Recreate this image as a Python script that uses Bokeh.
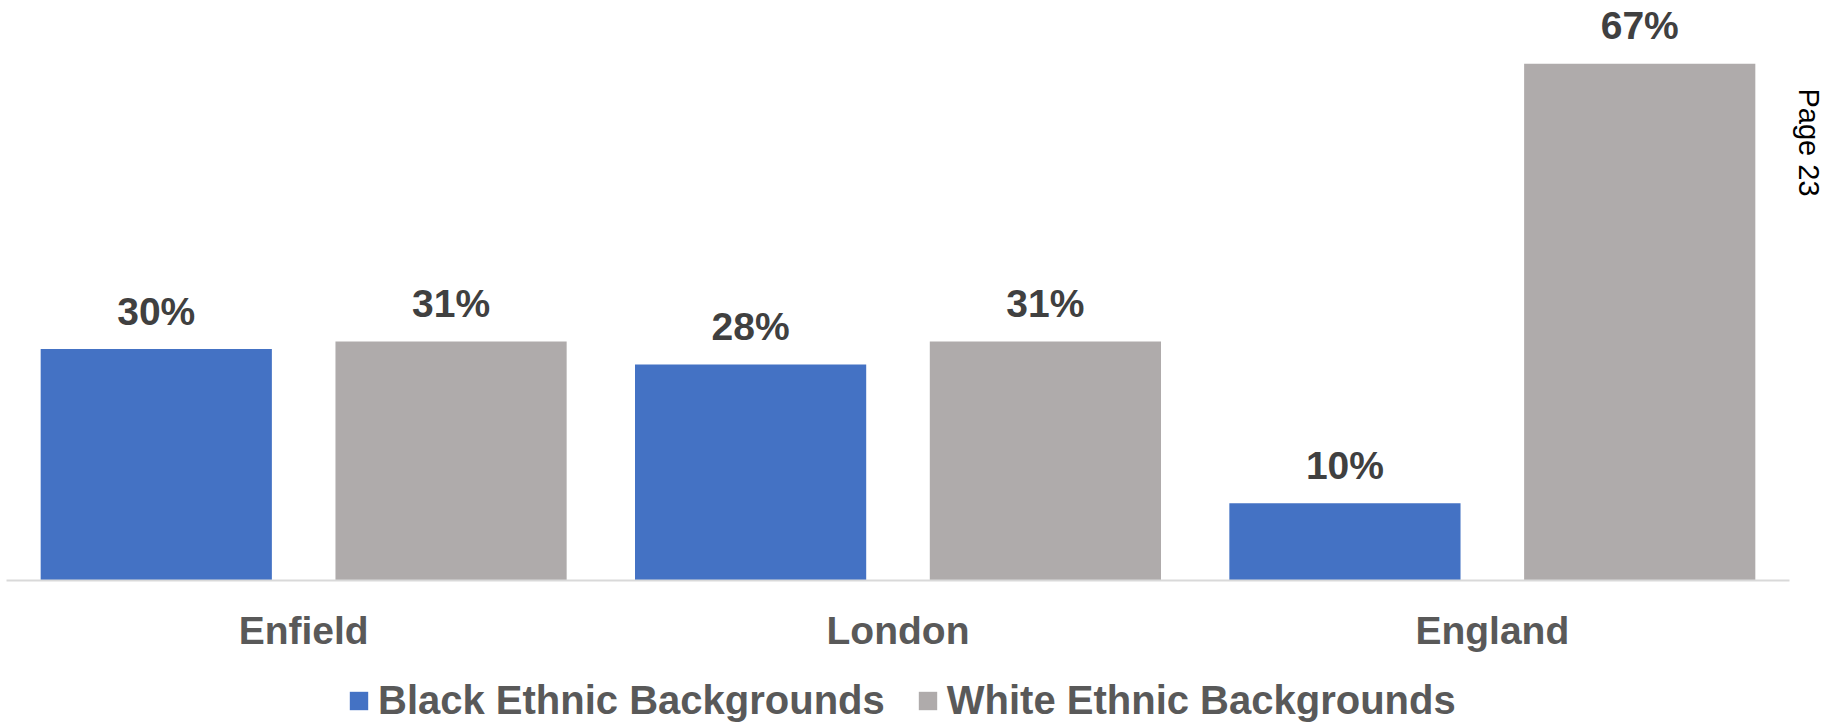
import math
from bokeh.plotting import figure
from bokeh.layouts import column
from bokeh.models import (ColumnDataSource, FactorRange, Range1d, Legend, LegendItem, Title)
from bokeh.transform import dodge
from bokeh.core.properties import value
from bokeh.embed import file_html
from bokeh.resources import INLINE

# ---- data ----
categories = ["Enfield", "London", "England"]
series_names = ["Black Ethnic Backgrounds", "White Ethnic Backgrounds"]
black_values = [30, 28, 10]
white_values = [31, 31, 67]
black_labels = ["30%", "28%", "10%"]
white_labels = ["31%", "31%", "67%"]
page_note = "Page 23"

BLUE = "#4472C4"
GREY = "#AFABAB"
FONT = "Liberation Sans"

source = ColumnDataSource(data=dict(
    cat=categories,
    black=black_values,
    white=white_values,
    black_lbl=black_labels,
    white_lbl=white_labels,
))

p = figure(
    x_range=FactorRange(*categories, range_padding=0),
    y_range=Range1d(0, 75.2),
    width=1841, height=660,
    output_backend="svg", toolbar_location=None,
    y_axis_location=None,
    min_border_left=6, min_border_right=52, min_border_top=0, min_border_bottom=80,
)
p.outline_line_color = None
p.xgrid.grid_line_color = None
p.ygrid.grid_line_color = None
p.background_fill_color = "white"
p.border_fill_color = "white"

off = 0.248
bw = 0.389
r_black = p.vbar(x=dodge("cat", -off, range=p.x_range), top="black", width=bw,
                 source=source, fill_color=BLUE, line_color=None)
r_white = p.vbar(x=dodge("cat", off, range=p.x_range), top="white", width=bw,
                 source=source, fill_color=GREY, line_color=None)

p.text(x=dodge("cat", -off, range=p.x_range), y="black", text="black_lbl", source=source,
       text_align="center", text_baseline="alphabetic", y_offset=-38,
       text_font=value(FONT), text_font_style="bold", text_font_size="39px",
       text_color="#404040")
p.text(x=dodge("cat", off, range=p.x_range), y="white", text="white_lbl", source=source,
       text_align="center", text_baseline="alphabetic", y_offset=-38,
       text_font=value(FONT), text_font_style="bold", text_font_size="39px",
       text_color="#404040")

ax = p.xaxis[0]
ax.axis_line_color = "#D9D9D9"
ax.axis_line_width = 2
ax.major_tick_line_color = None
ax.minor_tick_line_color = None
ax.major_tick_out = 0
ax.major_tick_in = 0
ax.major_label_standoff = 28
ax.major_label_text_font = FONT
ax.major_label_text_font_style = "bold"
ax.major_label_text_font_size = "39px"
ax.major_label_text_color = "#595959"

note = Title(text=page_note, align="left", offset=88, standoff=6,
             text_font=FONT, text_font_size="29px", text_font_style="normal",
             text_color="#000000")
p.add_layout(note, "right")

# ---- legend strip ----
lg = figure(
    width=1841, height=63, output_backend="svg", toolbar_location=None,
    x_axis_location=None, y_axis_location=None,
    x_range=Range1d(0, 1), y_range=Range1d(0, 1),
    min_border_left=0, min_border_right=0, min_border_top=0, min_border_bottom=0,
)
lg.outline_line_color = None
lg.xgrid.grid_line_color = None
lg.ygrid.grid_line_color = None
lg.background_fill_color = "white"
lg.border_fill_color = "white"
# legend key glyphs (zero-height, so only the legend swatches show)
key_src = ColumnDataSource(data=dict(x=[0.5], top=[0]))
d_black = lg.vbar(x="x", top="top", width=0.01, source=key_src, fill_color=BLUE, line_color=None)
d_white = lg.vbar(x="x", top="top", width=0.01, source=key_src, fill_color=GREY, line_color=None)

legend = Legend(items=[
    LegendItem(label=series_names[0], renderers=[d_black]),
    LegendItem(label=series_names[1], renderers=[d_white]),
], orientation="horizontal", location=(341, 0))
legend.label_text_font = FONT
legend.label_text_font_style = "bold"
legend.label_text_font_size = "40px"
legend.label_text_color = "#595959"
legend.glyph_width = 23
legend.glyph_height = 23
legend.label_standoff = 8
legend.spacing = 31
legend.padding = 0
legend.margin = 0
legend.border_line_color = None
legend.background_fill_alpha = 0
lg.add_layout(legend)

layout = column(p, lg, spacing=0)
open("out.html", "w").write(file_html(layout, INLINE))
